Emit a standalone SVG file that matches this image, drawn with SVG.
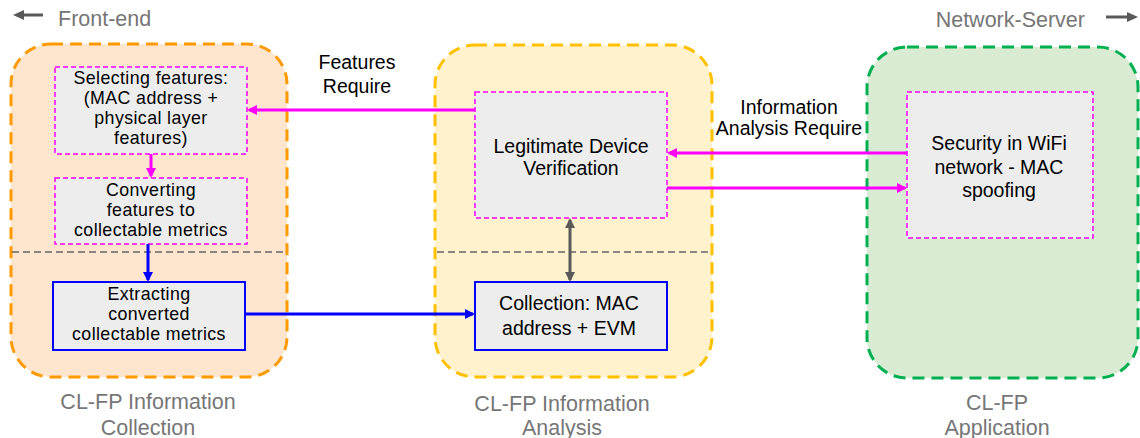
<svg xmlns="http://www.w3.org/2000/svg" width="1140" height="438" viewBox="0 0 1140 438">
<defs>
<style>
text{font-family:"Liberation Sans",Arial,sans-serif;}
.t{font-size:19.5px;fill:#000;text-anchor:middle;}
.s{font-size:17.8px;letter-spacing:0.4px;}
.g{font-size:21.5px;fill:#767676;text-anchor:middle;}
.box{fill:#EDEDED;}
.mag{stroke:#FF00FF;stroke-width:1.5;stroke-dasharray:5 3;}
.blu{stroke:#0000FF;stroke-width:2;}
.sep{stroke:#666;stroke-width:1.5;stroke-dasharray:7 4;fill:none;}
</style>
<marker id="am" markerWidth="10" markerHeight="10" refX="8" refY="5" orient="auto" markerUnits="userSpaceOnUse"><path d="M0,0 L10,5 L0,10 Z" fill="#FF00FF"/></marker>
<marker id="ab" markerWidth="10" markerHeight="10" refX="8" refY="5" orient="auto" markerUnits="userSpaceOnUse"><path d="M0,0 L10,5 L0,10 Z" fill="#0000FF"/></marker>
<marker id="ag" markerWidth="10" markerHeight="10" refX="8" refY="5" orient="auto-start-reverse" markerUnits="userSpaceOnUse"><path d="M0,0 L10,5 L0,10 Z" fill="#595959"/></marker>
</defs>
<rect width="1140" height="438" fill="#fff"/>
<g id="containers">
<rect id="c-collection" x="11" y="44" width="276" height="333" rx="40" fill="#FEE6CE" stroke="#FF9900" stroke-width="3" stroke-dasharray="12 7"/>
<rect id="c-analysis" x="435" y="45" width="277" height="332" rx="40" fill="#FFF2CC" stroke="#FFC000" stroke-width="3" stroke-dasharray="12 7"/>
<rect id="c-application" x="867" y="47" width="271" height="331" rx="40" fill="#DAEBD4" stroke="#00B050" stroke-width="3" stroke-dasharray="12 7"/>
<line class="sep" x1="12" y1="252" x2="286" y2="252"/>
<line class="sep" x1="437" y1="252" x2="710" y2="252"/>
</g>
<g id="headers">
<line x1="43" y1="15" x2="22" y2="15" stroke="#595959" stroke-width="3"/>
<path d="M13,15 L24,10 L24,20 Z" fill="#595959"/>
<text x="58" y="26" font-size="21.5" fill="#767676">Front-end</text>
<text x="1085" y="27" font-size="21.5" fill="#767676" text-anchor="end">Network-Server</text>
<line x1="1106" y1="17" x2="1128" y2="17" stroke="#595959" stroke-width="3"/>
<path d="M1138,17 L1127,12 L1127,22 Z" fill="#595959"/>
</g>
<g id="n-selecting">
<rect class="box mag" x="55" y="67" width="192" height="87"/>
<text class="t s"><tspan x="151" y="84">Selecting features:</tspan><tspan x="151" y="104">(MAC address +</tspan><tspan x="151" y="124">physical layer</tspan><tspan x="151" y="144">features)</tspan></text>
</g>
<g id="n-converting">
<rect class="box mag" x="55" y="178" width="192" height="66"/>
<text class="t s"><tspan x="151" y="196">Converting</tspan><tspan x="151" y="216">features to</tspan><tspan x="151" y="236">collectable metrics</tspan></text>
</g>
<g id="n-extracting">
<rect class="box blu" x="53" y="282" width="192" height="68"/>
<text class="t s"><tspan x="149" y="300">Extracting</tspan><tspan x="149" y="320">converted</tspan><tspan x="149" y="340">collectable metrics</tspan></text>
</g>
<g id="n-legitimate">
<rect class="box mag" x="475" y="92" width="192" height="126"/>
<text class="t"><tspan x="571" y="153">Legitimate Device</tspan><tspan x="571" y="175">Verification</tspan></text>
</g>
<g id="n-collection">
<rect class="box blu" x="475" y="282" width="192" height="68"/>
<text class="t"><tspan x="569" y="310">Collection: MAC</tspan><tspan x="569" y="335">address + EVM</tspan></text>
</g>
<g id="n-security">
<rect class="box mag" x="907" y="92" width="186" height="146"/>
<text class="t"><tspan x="999" y="150">Security in WiFi</tspan><tspan x="999" y="174">network - MAC</tspan><tspan x="999" y="197">spoofing</tspan></text>
</g>
<g id="labels">
<text class="t"><tspan x="357" y="69">Features</tspan><tspan x="357" y="93">Require</tspan></text>
<text class="t"><tspan x="789" y="114">Information</tspan><tspan x="789" y="135">Analysis Require</tspan></text>
<text class="g"><tspan x="148" y="409">CL-FP Information</tspan><tspan x="148" y="435">Collection</tspan></text>
<text class="g"><tspan x="562" y="411">CL-FP Information</tspan><tspan x="562" y="435">Analysis</tspan></text>
<text class="g"><tspan x="997" y="410">CL-FP</tspan><tspan x="997" y="435">Application</tspan></text>
</g>
<g id="connectors" fill="none">
<line x1="475" y1="110" x2="249" y2="110" stroke="#FF00FF" stroke-width="3" marker-end="url(#am)"/>
<line x1="151" y1="154" x2="151" y2="176" stroke="#FF00FF" stroke-width="3" marker-end="url(#am)"/>
<line x1="148" y1="244" x2="148" y2="280" stroke="#0000FF" stroke-width="3" marker-end="url(#ab)"/>
<line x1="245" y1="314" x2="473" y2="314" stroke="#0000FF" stroke-width="3" marker-end="url(#ab)"/>
<line x1="907" y1="153" x2="669" y2="153" stroke="#FF00FF" stroke-width="3" marker-end="url(#am)"/>
<line x1="667" y1="188" x2="905" y2="188" stroke="#FF00FF" stroke-width="3" marker-end="url(#am)"/>
<line x1="570" y1="220" x2="570" y2="280" stroke="#595959" stroke-width="3" marker-start="url(#ag)" marker-end="url(#ag)"/>
</g>
</svg>
